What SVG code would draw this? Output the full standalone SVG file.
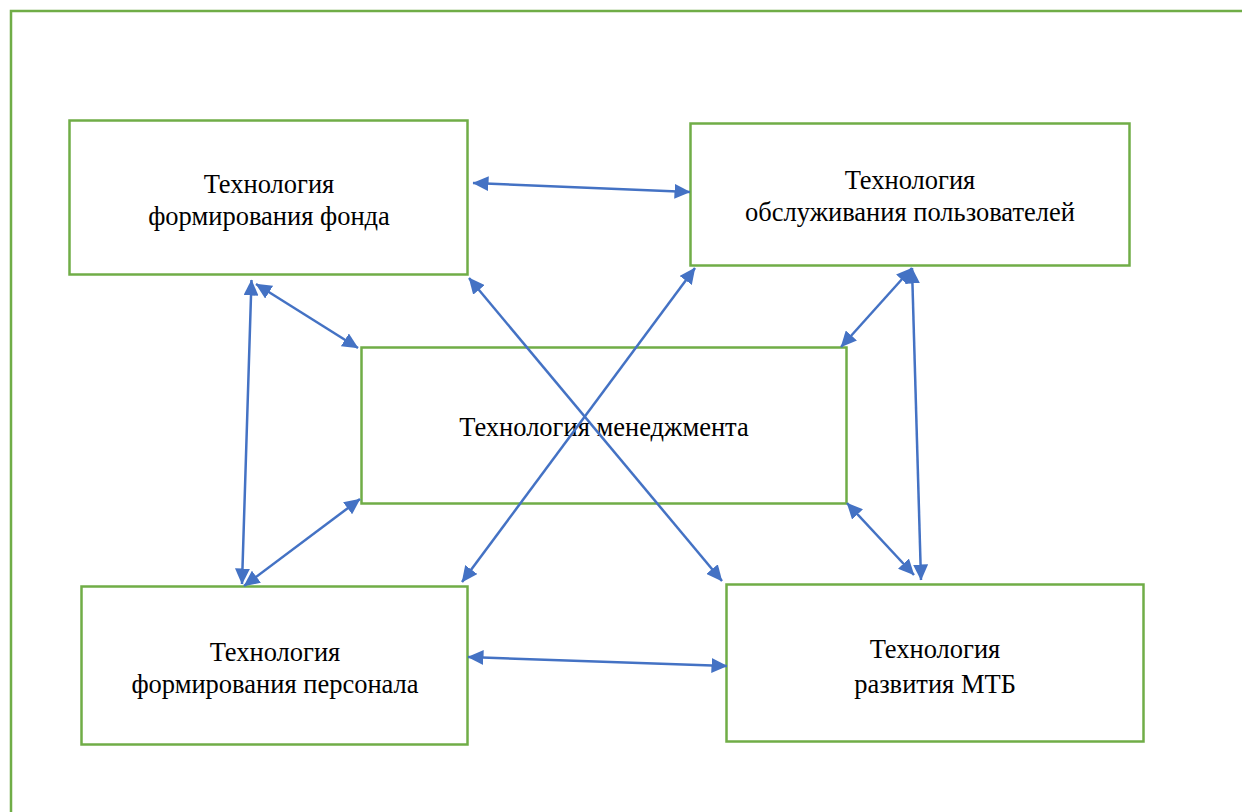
<svg xmlns="http://www.w3.org/2000/svg" width="1242" height="812" viewBox="0 0 1242 812">
<style>
.box{fill:#fff;stroke:#70AD47;stroke-width:2.5}
.t{font-family:"Liberation Serif","Times New Roman",serif;font-size:26.5px;fill:#000;text-anchor:middle}
.c{stroke:#4472C4;stroke-width:2.5;fill:none;marker-start:url(#ah);marker-end:url(#ah)}
</style>
<defs>
<marker id="ah" markerUnits="userSpaceOnUse" markerWidth="16" markerHeight="15" refX="15.5" refY="7.5" orient="auto-start-reverse" viewBox="0 0 16 15">
<path d="M0,0 L16,7.5 L0,15 Z" fill="#4472C4"/>
</marker>
</defs>
<rect width="1242" height="812" fill="#fff"/>
<path d="M11,812 V11 H1242" fill="none" stroke="#70AD47" stroke-width="2.5"/>
<g id="n1"><rect class="box" x="69.5" y="120.5" width="398" height="154"/>
<text class="t" x="269" y="193">Технология</text><text class="t" x="269" y="225">формирования фонда</text></g>
<g id="n2"><rect class="box" x="690.5" y="123.5" width="439" height="142"/>
<text class="t" x="910" y="189">Технология</text><text class="t" x="910" y="221">обслуживания пользователей</text></g>
<g id="n3"><rect class="box" x="361.5" y="347.5" width="485" height="156"/>
<text class="t" x="604" y="436">Технология менеджмента</text></g>
<g id="n4"><rect class="box" x="81.5" y="586.5" width="386" height="158"/>
<text class="t" x="275" y="661">Технология</text><text class="t" x="275" y="693">формирования персонала</text></g>
<g id="n5"><rect class="box" x="726.5" y="584.5" width="417" height="157"/>
<text class="t" x="935" y="658">Технология</text><text class="t" x="935" y="693">развития МТБ</text></g>
<g id="connectors">
<line class="c" x1="473" y1="183" x2="690" y2="192"/>
<line class="c" x1="251.5" y1="280" x2="242" y2="584"/>
<line class="c" x1="256" y1="284" x2="358" y2="348"/>
<line class="c" x1="244" y1="586" x2="360" y2="499"/>
<line class="c" x1="469" y1="278" x2="722" y2="581"/>
<line class="c" x1="462" y1="582" x2="695" y2="268"/>
<line class="c" x1="841" y1="347" x2="912" y2="268"/>
<line class="c" x1="912" y1="268" x2="921" y2="580"/>
<line class="c" x1="847" y1="503" x2="914" y2="575"/>
<line class="c" x1="468" y1="657" x2="727" y2="666"/>
</g>
</svg>
